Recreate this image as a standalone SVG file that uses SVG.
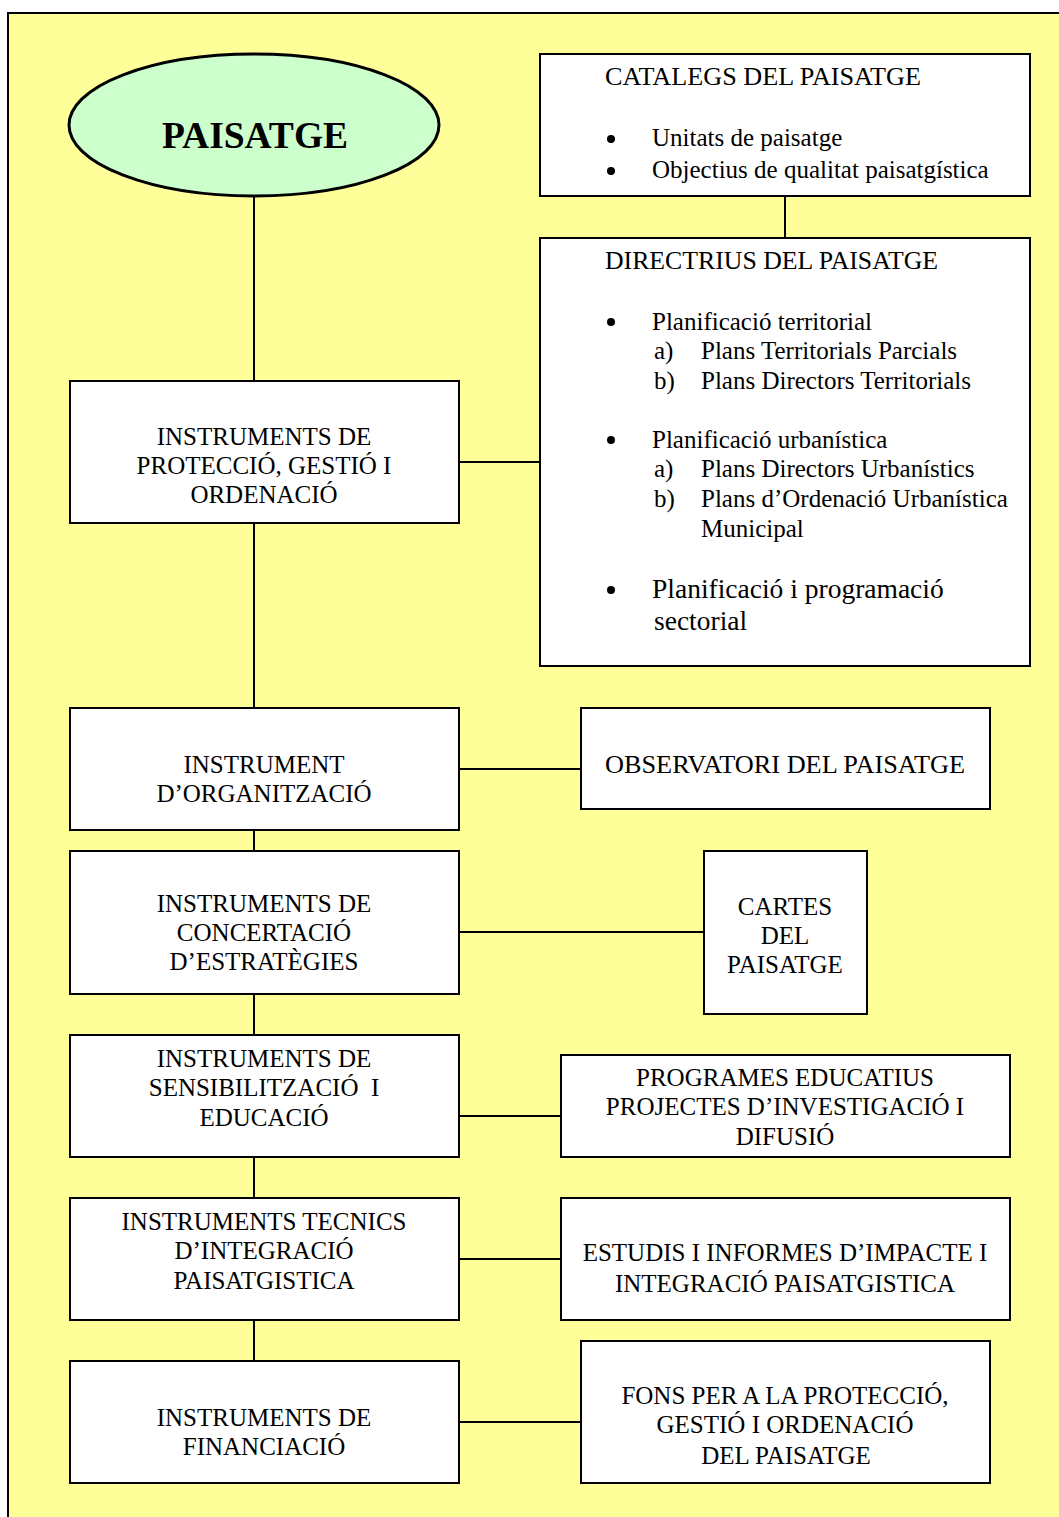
<svg xmlns="http://www.w3.org/2000/svg" width="1059" height="1517" viewBox="0 0 1059 1517">
<style>
.bg{fill:#FFFF99;stroke:#000;stroke-width:2}
.box{fill:#fff;stroke:#000;stroke-width:2}
.t{font-family:"Liberation Serif","Times New Roman",serif;font-size:25px;fill:#000}
.c{text-anchor:middle}
.big{font-size:27.5px}
.ln{stroke:#000;stroke-width:2;fill:none}
</style>
<rect class="bg" x="8" y="13" width="1070" height="1520"/>
<g id="connectors">
<line class="ln" x1="254" y1="196" x2="254" y2="381"/>
<line class="ln" x1="254" y1="523" x2="254" y2="708"/>
<line class="ln" x1="254" y1="830" x2="254" y2="851"/>
<line class="ln" x1="254" y1="994" x2="254" y2="1035"/>
<line class="ln" x1="254" y1="1157" x2="254" y2="1198"/>
<line class="ln" x1="254" y1="1320" x2="254" y2="1361"/>
<line class="ln" x1="785" y1="196" x2="785" y2="238"/>
<line class="ln" x1="459" y1="462" x2="540" y2="462"/>
<line class="ln" x1="459" y1="769" x2="581" y2="769"/>
<line class="ln" x1="459" y1="932" x2="704" y2="932"/>
<line class="ln" x1="459" y1="1116" x2="561" y2="1116"/>
<line class="ln" x1="459" y1="1259" x2="561" y2="1259"/>
<line class="ln" x1="459" y1="1422" x2="581" y2="1422"/>
</g>
<g id="paisatge">
<ellipse cx="254" cy="125" rx="185" ry="71" fill="#CCFFCC" stroke="#000" stroke-width="3"/>
<text class="t c" x="255" y="148" style="font-size:37.5px;font-weight:bold">PAISATGE</text>
</g>
<g id="catalegs">
<rect class="box" x="540" y="54" width="490" height="142"/>
<text class="t" x="605" y="85" textLength="316" lengthAdjust="spacingAndGlyphs">CATALEGS DEL PAISATGE</text>
<circle cx="611" cy="139" r="4"/>
<text class="t" x="652" y="146">Unitats de paisatge</text>
<circle cx="611" cy="171" r="4"/>
<text class="t" x="652" y="178">Objectius de qualitat paisatgística</text>
</g>
<g id="directrius">
<rect class="box" x="540" y="238" width="490" height="428"/>
<text class="t" x="605" y="269" textLength="333" lengthAdjust="spacingAndGlyphs">DIRECTRIUS DEL PAISATGE</text>
<circle cx="611" cy="322" r="4"/>
<text class="t" x="652" y="330">Planificació territorial</text>
<text class="t" x="654" y="359">a)</text>
<text class="t" x="701" y="359">Plans Territorials Parcials</text>
<text class="t" x="654" y="389">b)</text>
<text class="t" x="701" y="389">Plans Directors Territorials</text>
<circle cx="611" cy="440" r="4"/>
<text class="t" x="652" y="448">Planificació urbanística</text>
<text class="t" x="654" y="477">a)</text>
<text class="t" x="701" y="477">Plans Directors Urbanístics</text>
<text class="t" x="654" y="507">b)</text>
<text class="t" x="701" y="507">Plans d’Ordenació Urbanística</text>
<text class="t" x="701" y="537">Municipal</text>
<circle cx="611" cy="590" r="4"/>
<text class="t big" x="652" y="598">Planificació i programació</text>
<text class="t big" x="654" y="630">sectorial</text>
</g>
<g id="protec">
<rect class="box" x="70" y="381" width="389" height="142"/>
<text class="t c" x="264" y="445">INSTRUMENTS DE</text>
<text class="t c" x="264" y="474">PROTECCIÓ, GESTIÓ I</text>
<text class="t c" x="264" y="503">ORDENACIÓ</text>
</g>
<g id="organ">
<rect class="box" x="70" y="708" width="389" height="122"/>
<text class="t c" x="264" y="773">INSTRUMENT</text>
<text class="t c" x="264" y="802">D’ORGANITZACIÓ</text>
</g>
<g id="observatori">
<rect class="box" x="581" y="708" width="409" height="101"/>
<text class="t" x="605" y="773" textLength="360" lengthAdjust="spacingAndGlyphs">OBSERVATORI DEL PAISATGE</text>
</g>
<g id="concert">
<rect class="box" x="70" y="851" width="389" height="143"/>
<text class="t c" x="264" y="912">INSTRUMENTS DE</text>
<text class="t c" x="264" y="941">CONCERTACIÓ</text>
<text class="t c" x="264" y="970">D’ESTRATÈGIES</text>
</g>
<g id="cartes">
<rect class="box" x="704" y="851" width="163" height="163"/>
<text class="t c" x="785" y="915">CARTES</text>
<text class="t c" x="785" y="944">DEL</text>
<text class="t c" x="785" y="973">PAISATGE</text>
</g>
<g id="sensib">
<rect class="box" x="70" y="1035" width="389" height="122"/>
<text class="t c" x="264" y="1067">INSTRUMENTS DE</text>
<text class="t c" x="264" y="1096" xml:space="preserve">SENSIBILITZACIÓ  I</text>
<text class="t c" x="264" y="1126">EDUCACIÓ</text>
</g>
<g id="programes">
<rect class="box" x="561" y="1055" width="449" height="102"/>
<text class="t c" x="785" y="1086">PROGRAMES EDUCATIUS</text>
<text class="t c" x="785" y="1115">PROJECTES D’INVESTIGACIÓ I</text>
<text class="t c" x="785" y="1145">DIFUSIÓ</text>
</g>
<g id="tecnics">
<rect class="box" x="70" y="1198" width="389" height="122"/>
<text class="t c" x="264" y="1230">INSTRUMENTS TECNICS</text>
<text class="t c" x="264" y="1259">D’INTEGRACIÓ</text>
<text class="t c" x="264" y="1289">PAISATGISTICA</text>
</g>
<g id="estudis">
<rect class="box" x="561" y="1198" width="449" height="122"/>
<text class="t c" x="785" y="1261">ESTUDIS I INFORMES D’IMPACTE I</text>
<text class="t c" x="785" y="1292">INTEGRACIÓ PAISATGISTICA</text>
</g>
<g id="financ">
<rect class="box" x="70" y="1361" width="389" height="122"/>
<text class="t c" x="264" y="1426">INSTRUMENTS DE</text>
<text class="t c" x="264" y="1455">FINANCIACIÓ</text>
</g>
<g id="fons">
<rect class="box" x="581" y="1341" width="409" height="142"/>
<text class="t c" x="785" y="1404">FONS PER A LA PROTECCIÓ,</text>
<text class="t c" x="785" y="1433">GESTIÓ I ORDENACIÓ</text>
<text class="t c" x="786" y="1464">DEL PAISATGE</text>
</g>
</svg>
